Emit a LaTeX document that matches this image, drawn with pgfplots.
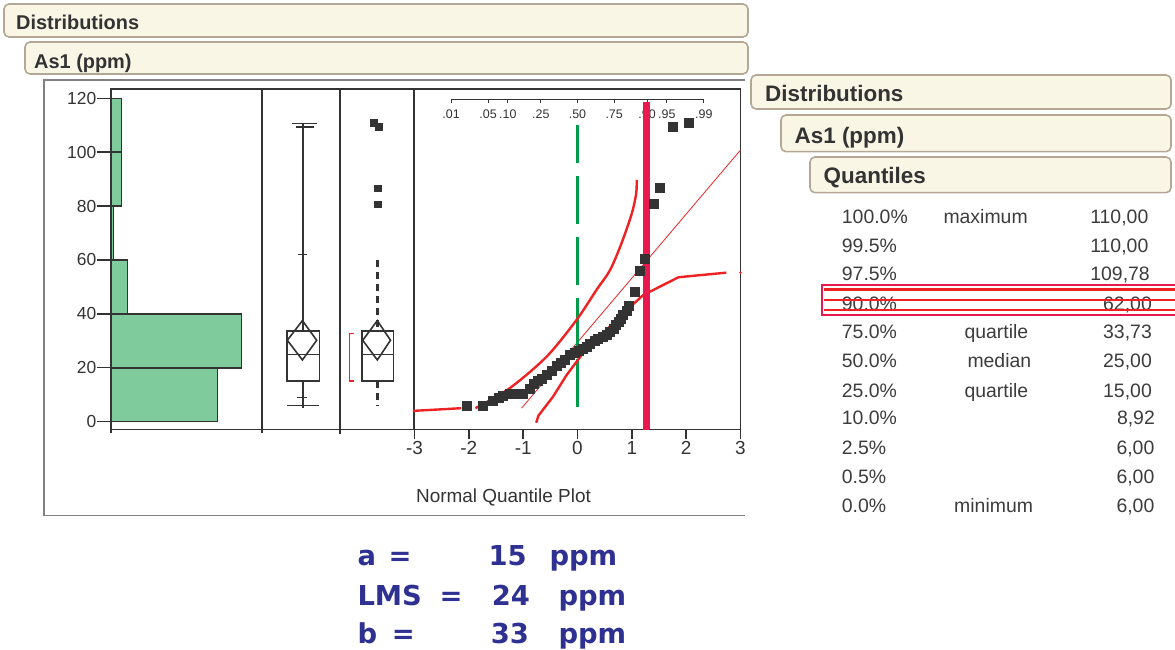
\documentclass[border=0pt]{standalone}
\usepackage{pgfplots}
\pgfplotsset{compat=1.18}
\usepackage{fontspec}
\setmainfont{Liberation Sans}
\newfontfamily\verd{DejaVu Sans}
\definecolor{ink}{HTML}{333333}
\definecolor{txt}{HTML}{3C3C3C}
\definecolor{hdrfill}{HTML}{FAF6E6}
\definecolor{hdrline}{HTML}{B4A796}
\definecolor{histgreen}{HTML}{7FCB9B}
\definecolor{bandred}{HTML}{EE2222}
\definecolor{crimson}{HTML}{E8194F}
\definecolor{dgreen}{HTML}{009B48}
\definecolor{navy}{HTML}{2E3192}
\definecolor{frame}{HTML}{808080}

\pgfplotsset{
  panel/.style={scale only axis, anchor=south west, height=340.5bp,
    ymin=-2.9, ymax=123.45, clip=false,
    axis line style={draw=ink, line width=1.6bp},
    tick style={draw=ink, line width=1.4bp},
    /pgf/number format/assume math mode=true,
    ticklabel style={text=ink}},
}
\tikzset{
  hdr/.style={draw=hdrline, fill=hdrfill, line width=1.6bp, rounded corners=5bp},
  tbl/.style={font=\fontsize{19.5}{19.5}\selectfont, text=txt, inner sep=0pt},
  big/.style={font=\verd\bfseries\fontsize{27.5}{27.5}\selectfont, text=navy, inner sep=0pt, anchor=base west},
  prob/.style={anchor=base, inner sep=0pt, font=\fontsize{12.5}{12.5}\selectfont, text=ink},
}

\begin{document}
\begin{tikzpicture}[x=1bp,y=1bp]
\useasboundingbox (0,0) rectangle (1175,650);

% header bars, left
\draw[hdr] (4,646) rectangle (748,613);
\node[anchor=base west, inner sep=0pt, font=\bfseries\fontsize{20}{20}\selectfont, text=ink] at (16,620.7) {Distributions};
\draw[hdr] (25,608) rectangle (748,576);
\node[anchor=base west, inner sep=0pt, font=\bfseries\fontsize{20}{20}\selectfont, text=ink] at (34,581.7) {As1 (ppm)};

% header bars, right
\draw[hdr] (751,575) rectangle (1171,541);
\node[anchor=base west, inner sep=0pt, font=\bfseries\fontsize{22.5}{22.5}\selectfont, text=ink] at (765,548.3) {Distributions};
\draw[hdr] (781,535) rectangle (1171,498.3);
\node[anchor=base west, inner sep=0pt, font=\bfseries\fontsize{22.5}{22.5}\selectfont, text=ink] at (794.5,506) {As1 (ppm)};
\draw[hdr] (810,493) rectangle (1171,457.3);
\node[anchor=base west, inner sep=0pt, font=\bfseries\fontsize{22.5}{22.5}\selectfont, text=ink] at (823.5,466.7) {Quantiles};

% outer frame of the report panel
\draw[frame, line width=1.5bp] (745,570) -- (44,570) -- (44,133.5);
\draw[frame, line width=1.5bp] (44,134.5) -- (745,134.5);

% histogram
\begin{axis}[panel, at={(111bp,220.5bp)}, width=151bp, xmin=0, xmax=28.2,
  xtick=\empty, ytick={0,20,...,120}, ytick pos=left, tick align=outside,
  major tick length=14bp,
  yticklabel style={font=\fontsize{17.5}{17.5}\selectfont, inner sep=0.5bp}]
\addplot[xbar interval, fill=histgreen, draw=ink, line width=1.5bp]
  coordinates {(19.92,0) (24.4,20) (3.04,40) (0.43,60) (2.0,80) (2.0,100) (2.0,120)};
\addplot[ink, line width=1.4bp] coordinates {(0,-1.6) (0,-4.2)};
\end{axis}

% box plots
\begin{axis}[panel, at={(262bp,220.5bp)}, width=152bp, xmin=262, xmax=414,
  xtick=\empty, ytick=\empty]
\addplot[ink, line width=1.6bp] coordinates {(340,-4.5) (340,123.45)};
\addplot[ink, line width=1.4bp] coordinates {(262,-1.6) (262,-4.2)};
% outlier-free box plot
\addplot[ink, line width=1.6bp] coordinates {(302.7,33.73) (302.7,110.3)};
\addplot[ink, line width=1.6bp] coordinates {(302.7,15) (302.7,5.2)};
\addplot[ink, line width=1.6bp] coordinates {(292,110.6) (317,110.6)};
\addplot[ink, line width=1.3bp] coordinates {(296,109.3) (314,109.3)};
\addplot[ink, line width=1.6bp] coordinates {(286.7,6) (319.3,6)};
\addplot[ink, line width=1.4bp] coordinates {(296.7,8.92) (306.7,8.92)};
\addplot[ink, line width=1.4bp] coordinates {(298.3,62) (306.7,62)};
\addplot[ink, line width=1.6bp] coordinates {(286.7,15) (319.3,15) (319.3,33.73) (286.7,33.73)} -- cycle;
\addplot[ink, line width=1.6bp] coordinates {(286.7,25) (319.3,25)};
\addplot[ink, line width=1.6bp] coordinates {(287.3,30.2) (302.4,37.5) (316.7,30.2) (302.4,22.9)} -- cycle;
% outlier box plot
\addplot[ink, line width=2.8bp, dash pattern=on 7bp off 5bp] coordinates {(377.6,60) (377.6,33.73)};
\addplot[ink, line width=2.8bp, dash pattern=on 7bp off 5bp] coordinates {(377.6,15) (377.6,6)};
\addplot[ink, line width=1.6bp, fill=white] coordinates {(361.7,15) (393.3,15) (393.3,33.73) (361.7,33.73)} -- cycle;
\addplot[ink, line width=1.6bp] coordinates {(361.7,25) (393.3,25)};
\addplot[ink, line width=1.6bp] coordinates {(362.7,30.2) (377.3,37.5) (390.5,30.2) (377.3,22.9)} -- cycle;
\addplot[only marks, mark=square*, mark size=3.4bp, ink] coordinates {(377.6,80.7) (377.6,86.6) (373.5,110.9) (378.3,109.6)};
% shortest half bracket
\addplot[bandred, line width=1.1bp] coordinates {(353.8,32.8) (349.3,32.8) (349.3,15.1) (353.8,15.1)};
\end{axis}

% normal quantile plot
\begin{axis}[panel, at={(414.5bp,220.5bp)}, width=326bp, xmin=-3, xmax=3,
  xtick={-3,-2,-1,0,1,2,3}, ytick=\empty, xtick pos=bottom, tick align=outside,
  major tick length=10bp,
  xticklabel style={font=\fontsize{19}{19}\selectfont, inner sep=1.5bp}]
% probability scale along the top
\draw[ink, line width=0.9bp] (axis cs:-2.326,119.7) -- (axis cs:2.326,119.7);
\draw[ink, line width=0.9bp] (axis cs:-2.326,119.7) -- (axis cs:-2.326,118.2);
\draw[ink, line width=0.9bp] (axis cs:-1.645,119.7) -- (axis cs:-1.645,118.2);
\draw[ink, line width=0.9bp] (axis cs:-1.2816,119.7) -- (axis cs:-1.2816,118.2);
\draw[ink, line width=0.9bp] (axis cs:-0.6745,119.7) -- (axis cs:-0.6745,118.2);
\draw[ink, line width=0.9bp] (axis cs:0,119.7) -- (axis cs:0,118.2);
\draw[ink, line width=0.9bp] (axis cs:0.6745,119.7) -- (axis cs:0.6745,118.2);
\draw[ink, line width=0.9bp] (axis cs:1.2816,119.7) -- (axis cs:1.2816,118.2);
\draw[ink, line width=0.9bp] (axis cs:1.645,119.7) -- (axis cs:1.645,118.2);
\draw[ink, line width=0.9bp] (axis cs:2.326,119.7) -- (axis cs:2.326,118.2);
\node[prob] at (axis cs:-2.326,112.6) {.01};
\node[prob] at (axis cs:-1.645,112.6) {.05};
\node[prob] at (axis cs:-1.2816,112.6) {.10};
\node[prob] at (axis cs:-0.6745,112.6) {.25};
\node[prob] at (axis cs:0,112.6) {.50};
\node[prob] at (axis cs:0.6745,112.6) {.75};
\node[prob] at (axis cs:1.2816,112.6) {.90};
\node[prob] at (axis cs:1.645,112.6) {.95};
\node[prob] at (axis cs:2.326,112.6) {.99};
% normal fit line
\addplot[bandred, line width=0.8bp] coordinates {(-1.03,5) (3.0,100.8)};
% median line
\addplot[dgreen, line width=2.6bp, dash pattern=on 48bp off 13bp, dash phase=10bp] coordinates {(0,110) (0,4.3)};
% data
\addplot[only marks, mark=square*, mark size=4.5bp, ink] coordinates {
(-2.04,6) (-1.75,6) (-1.56,7.6) (-1.45,9) (-1.37,9.5) (-1.25,10.3) (-1.13,10.5)
(-1.0,10.5) (-0.88,12.4) (-0.8,14) (-0.73,15.2) (-0.65,16) (-0.57,17.3) (-0.48,19)
(-0.39,20.7) (-0.31,22) (-0.23,22.9) (-0.14,24.7) (-0.06,25.5) (0.02,26.3) (0.10,27.2)
(0.17,28) (0.23,29.1) (0.31,30) (0.38,30.9) (0.46,31.5) (0.54,32.2) (0.60,33.5)
(0.66,34.6) (0.70,35.8) (0.75,37.1) (0.80,38.3) (0.84,39.6) (0.90,41.2) (0.95,42.9)
(1.06,48.2) (1.14,56) (1.24,60.3) (1.41,80.8) (1.52,86.8) (1.75,109.5) (2.04,111)};
% confidence bands
\addplot[bandred, line width=2.4bp] coordinates {(-3.03,4.0) (-2.14,5.0)};
\addplot[bandred, line width=2.4bp, smooth] coordinates {
(-1.88,5.0) (-1.25,12.4) (-0.57,24.1) (-0.02,37.7) (0.35,48.9) (0.60,56.3)
(0.81,66.2) (1.0,77.3) (1.08,84.7) (1.09,89.7)};
\addplot[bandred, line width=2.4bp] coordinates {
(-0.76,-0.4) (-0.72,2.2) (-0.45,9.3) (-0.20,17.3) (0.10,25.4) (0.47,32.8)
(0.84,40.2) (1.21,47.0) (1.86,53.6) (2.74,55.3)};
\addplot[only marks, mark=*, mark size=1bp, bandred] coordinates {(3.0,55.3)};
% 90% quantile marker
\addplot[crimson, line width=6.5bp] coordinates {(1.274,118.7) (1.274,-3)};
\end{axis}
\node[anchor=base west, inner sep=0pt, font=\fontsize{19}{19}\selectfont, text=ink] at (416,147.3) {Normal Quantile Plot};

% quantiles table
\node[tbl, anchor=base west] at (841.7,426.3) {100.0\%};
\node[tbl, anchor=base west] at (943.3,426.3) {maximum};
\node[tbl, anchor=base east] at (1148.5,426.3) {110,00};
\node[tbl, anchor=base west] at (841.7,397.3) {99.5\%};
\node[tbl, anchor=base east] at (1148.5,397.3) {110,00};
\node[tbl, anchor=base west] at (841.7,369) {97.5\%};
\node[tbl, anchor=base east] at (1150,369) {109,78};
\node[tbl, anchor=base west] at (841.7,339.7) {90.0\%};
\node[tbl, anchor=base east] at (1152,339.7) {62,00};
\node[tbl, anchor=base west] at (841.7,311.3) {75.0\%};
\node[tbl, anchor=base west] at (964.3,311.3) {quartile};
\node[tbl, anchor=base east] at (1152,311.3) {33,73};
\node[tbl, anchor=base west] at (841.7,282.3) {50.0\%};
\node[tbl, anchor=base west] at (967.3,282.3) {median};
\node[tbl, anchor=base east] at (1152,282.3) {25,00};
\node[tbl, anchor=base west] at (841.7,252) {25.0\%};
\node[tbl, anchor=base west] at (964.3,252) {quartile};
\node[tbl, anchor=base east] at (1152,252) {15,00};
\node[tbl, anchor=base west] at (841.7,225.7) {10.0\%};
\node[tbl, anchor=base east] at (1155,225.7) {8,92};
\node[tbl, anchor=base west] at (841.7,195.7) {2.5\%};
\node[tbl, anchor=base east] at (1154.5,195.7) {6,00};
\node[tbl, anchor=base west] at (841.7,166.3) {0.5\%};
\node[tbl, anchor=base east] at (1154.5,166.3) {6,00};
\node[tbl, anchor=base west] at (841.7,137.3) {0.0\%};
\node[tbl, anchor=base west] at (954,137.3) {minimum};
\node[tbl, anchor=base east] at (1154.5,137.3) {6,00};

% highlight of the 90% row
\draw[crimson, line width=2bp] (1185,365) -- (822,365) -- (822,334.5) -- (1185,334.5);
\draw[bandred, line width=2.6bp] (824,360.7) -- (1185,360.7);
\draw[bandred, line width=2.6bp] (824,350) -- (1185,350);
\draw[bandred, line width=2.6bp] (824,340) -- (1185,340);

% limits below the chart
\node[big] at (357.3,84) {a};
\node[big] at (388.3,84) {=};
\node[big] at (488.3,84) {15};
\node[big] at (549.3,84) {ppm};
\node[big] at (357.3,44) {LMS};
\node[big] at (439.3,44) {=};
\node[big] at (491.7,44) {24};
\node[big] at (558.3,44) {ppm};
\node[big] at (357.3,6.7) {b};
\node[big] at (391.7,6.7) {=};
\node[big] at (490.7,6.7) {33};
\node[big] at (558.3,6.7) {ppm};
\end{tikzpicture}
\end{document}
